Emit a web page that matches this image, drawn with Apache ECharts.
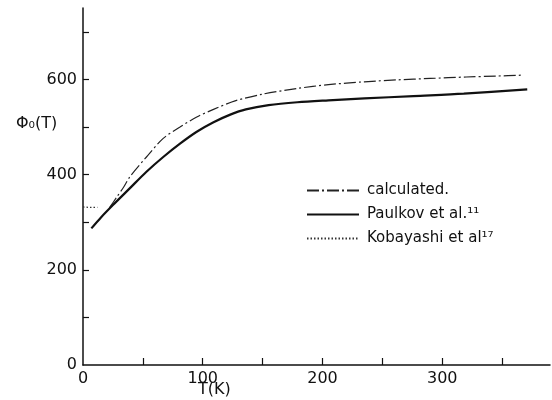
<!DOCTYPE html>
<html>
<head>
<meta charset="utf-8">
<script src="https://cdn.jsdelivr.net/npm/echarts@6/dist/echarts.min.js"></script>
<style>
html, body { margin: 0; padding: 0; background: #fff; }
#chart { width: 552px; height: 400px; }
</style>
</head>
<body>
<div id="chart"></div>
<script>
// data
var calcT = [22, 28, 34, 39, 53, 67, 81, 95, 109, 127, 150, 179, 205, 235, 262, 290, 320, 345, 368];
var calcV = [330, 352, 374, 395, 437, 476, 500, 521, 537, 555, 569, 581, 589, 595, 599, 602, 605, 607, 609];
var paulT = [7, 15, 25, 39, 53, 67, 81, 95, 109, 123, 136, 155, 179, 205, 235, 276, 318, 371];
var paulV = [287, 310, 336, 371, 406, 437, 465, 490, 510, 526, 537, 546, 552, 556, 560, 565, 570, 579];
var kobaT = [0, 6, 12];
var kobaV = [332, 331, 331];
var xLabels = [0, 100, 200, 300];
var xTicks = [50, 100, 150, 200, 250, 300, 350];
var yLabels = [0, 200, 400, 600];
var yTicks = [100, 200, 300, 400, 500, 600, 700];

function pairs(xs, ys) {
    return xs.map(function (x, i) { return [x, ys[i]]; });
}

var font = 'DejaVu Sans';
var chart = echarts.init(document.getElementById('chart'));
var option = {
    backgroundColor: '#fff',
    animation: false,
    grid: { left: 83, right: 2, top: 8, bottom: 35, containLabel: false },
    xAxis: {
        type: 'value',
        min: 0,
        max: 390,
        splitLine: { show: false },
        axisLine: { lineStyle: { color: '#111', width: 1.5 } },
        axisTick: { inside: true, length: 7, customValues: xTicks, lineStyle: { color: '#111', width: 1.2 } },
        axisLabel: { customValues: xLabels, color: '#111', fontFamily: font, fontSize: 16, margin: 6 }
    },
    yAxis: {
        type: 'value',
        min: 0,
        max: 750,
        splitLine: { show: false },
        axisLine: { lineStyle: { color: '#111', width: 1.5 } },
        axisTick: { inside: true, length: 6, customValues: yTicks, lineStyle: { color: '#111', width: 1.2 } },
        axisLabel: { customValues: yLabels, color: '#111', fontFamily: font, fontSize: 16, margin: 6 }
    },
    legend: {
        orient: 'vertical',
        left: 301,
        top: 178,
        itemWidth: 52,
        itemHeight: 14,
        itemGap: 9,
        itemStyle: { opacity: 0 },
        textStyle: { color: '#111', fontFamily: font, fontSize: 15, padding: [0, 0, 0, 3] },
        data: ['calculated.', 'Paulkov et al.¹¹', 'Kobayashi et al¹⁷']
    },
    graphic: [
        { type: 'text', left: 16, top: 116, style: { text: 'Φ₀(T)', fill: '#111', font: '16px "DejaVu Sans"' } },
        { type: 'text', left: 198, top: 382, style: { text: 'T(K)', fill: '#111', font: '16px "DejaVu Sans"' } }
    ],
    series: [
        {
            name: 'calculated.',
            type: 'line',
            symbol: 'none',
            smooth: 0.3,
            lineStyle: { color: '#222', width: 1.2, type: [12, 3, 2, 3] },
            itemStyle: { color: '#222' },
            data: pairs(calcT, calcV)
        },
        {
            name: 'Paulkov et al.¹¹',
            type: 'line',
            symbol: 'none',
            smooth: 0.3,
            lineStyle: { color: '#111', width: 2.2 },
            itemStyle: { color: '#111' },
            data: pairs(paulT, paulV)
        },
        {
            name: 'Kobayashi et al¹⁷',
            type: 'line',
            symbol: 'none',
            lineStyle: { color: '#333', width: 1.2, type: [1.5, 2] },
            itemStyle: { color: '#333' },
            data: pairs(kobaT, kobaV)
        }
    ]
};
chart.setOption(option);
</script>
</body>
</html>
